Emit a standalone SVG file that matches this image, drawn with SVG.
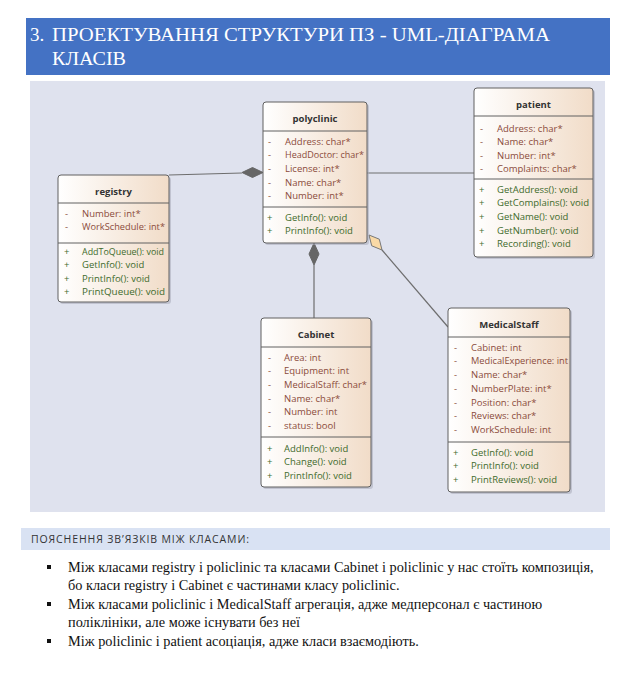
<svg xmlns="http://www.w3.org/2000/svg" width="637" height="687" viewBox="0 0 637 687">
<defs>
<linearGradient id="gr" x1="0" y1="0" x2="1" y2="0">
<stop offset="0" stop-color="#ffffff"/>
<stop offset="1" stop-color="#f1dcc8"/>
</linearGradient>
</defs>
<style>
.box{fill:url(#gr);stroke:#606060;stroke-width:1}
.sh{fill:#a8aab8;opacity:0.55}
.sep{stroke:#606060;stroke-width:1}
.ttl{font-family:"Open Sans","Liberation Sans",sans-serif;font-size:9.5px;font-weight:bold;fill:#333;text-anchor:middle}
.a{font-family:"Open Sans","Liberation Sans",sans-serif;font-size:9.5px;fill:#8b4b3b}
.m{font-family:"Open Sans","Liberation Sans",sans-serif;font-size:9.5px;fill:#3e6b2c}
.ln{stroke:#6e6e6e;stroke-width:1.2;fill:none}
.hd{font-family:"Liberation Serif","Times New Roman",serif;font-size:19px;fill:#ffffff}
.bt{font-family:"Liberation Serif",serif;font-size:14.3px;fill:#111}
.lbl{font-family:"Open Sans","Liberation Sans",sans-serif;font-size:10.5px;fill:#333}
</style>
<rect x="0" y="0" width="637" height="687" fill="#ffffff"/>
<g id="header">
<rect x="26" y="18" width="584" height="57" fill="#4472c4"/>
<text class="hd" x="30" y="41">3.</text>
<text class="hd" x="52" y="41" textLength="498" lengthAdjust="spacingAndGlyphs">ПРОЕКТУВАННЯ СТРУКТУРИ ПЗ - UML-ДІАГРАМА</text>
<text class="hd" x="52" y="65" textLength="74" lengthAdjust="spacingAndGlyphs">КЛАСІВ</text>
</g>
<rect id="canvas" x="30" y="81" width="575" height="431" fill="#dfe2ee"/>
<g id="connectors">
<line class="ln" x1="169" y1="175" x2="242" y2="173"/>
<polygon points="263,172.5 252.5,167.5 242,172.5 252.5,177.5" fill="#666" stroke="#666" stroke-width="1"/>
<line class="ln" x1="314" y1="265" x2="314" y2="318"/>
<polygon points="314,243 319,254 314,265 309,254" fill="#666" stroke="#666" stroke-width="1"/>
<line class="ln" x1="367" y1="173" x2="474" y2="173"/>
<line class="ln" x1="382" y1="250" x2="448" y2="327"/>
<polygon points="369,235 379.3,239.2 382,250 371.7,245.8" fill="#f9d9a6" stroke="#777" stroke-width="1"/>
</g>
<g id="registry">
<rect class="sh" x="60" y="177" width="111" height="127" rx="3"/>
<rect class="box" x="58" y="175" width="111" height="127" rx="3"/>
<line class="sep" x1="58" y1="203" x2="169" y2="203"/>
<line class="sep" x1="58" y1="243" x2="169" y2="243"/>
<text class="ttl" x="113.5" y="194.5">registry</text>
<text class="a" x="65" y="216.5">-</text><text class="a" x="82" y="216.5">Number: int*</text>
<text class="a" x="65" y="230.2">-</text><text class="a" x="82" y="230.2" textLength="83" lengthAdjust="spacingAndGlyphs">WorkSchedule: int*</text>
<text class="m" x="64" y="254.5">+</text><text class="m" x="82" y="254.5" textLength="82" lengthAdjust="spacingAndGlyphs">AddToQueue(): void</text>
<text class="m" x="64" y="268">+</text><text class="m" x="82" y="268">GetInfo(): void</text>
<text class="m" x="64" y="281.7">+</text><text class="m" x="82" y="281.7">PrintInfo(): void</text>
<text class="m" x="64" y="295.4">+</text><text class="m" x="82" y="295.4" textLength="83" lengthAdjust="spacingAndGlyphs">PrintQueue(): void</text>
</g>
<g id="polyclinic">
<rect class="sh" x="265" y="104" width="104" height="141" rx="3"/>
<rect class="box" x="263" y="102" width="104" height="141" rx="3"/>
<line class="sep" x1="263" y1="131" x2="367" y2="131"/>
<line class="sep" x1="263" y1="207" x2="367" y2="207"/>
<text class="ttl" x="315" y="122">polyclinic</text>
<text class="a" x="268" y="144.5">-</text><text class="a" x="285" y="144.5">Address: char*</text>
<text class="a" x="268" y="158.2">-</text><text class="a" x="285" y="158.2" textLength="79" lengthAdjust="spacingAndGlyphs">HeadDoctor: char*</text>
<text class="a" x="268" y="171.9">-</text><text class="a" x="285" y="171.9">License: int*</text>
<text class="a" x="268" y="185.6">-</text><text class="a" x="285" y="185.6">Name: char*</text>
<text class="a" x="268" y="199.3">-</text><text class="a" x="285" y="199.3">Number: int*</text>
<text class="m" x="267" y="220.5">+</text><text class="m" x="285" y="220.5">GetInfo(): void</text>
<text class="m" x="267" y="234.2">+</text><text class="m" x="285" y="234.2">PrintInfo(): void</text>
</g>
<g id="patient">
<rect class="sh" x="476" y="90" width="119" height="169" rx="3"/>
<rect class="box" x="474" y="88" width="119" height="169" rx="3"/>
<line class="sep" x1="474" y1="116" x2="593" y2="116"/>
<line class="sep" x1="474" y1="179" x2="593" y2="179"/>
<text class="ttl" x="533.5" y="108">patient</text>
<text class="a" x="480" y="131.5">-</text><text class="a" x="497" y="131.5">Address: char*</text>
<text class="a" x="480" y="145">-</text><text class="a" x="497" y="145">Name: char*</text>
<text class="a" x="480" y="158.5">-</text><text class="a" x="497" y="158.5">Number: int*</text>
<text class="a" x="480" y="172">-</text><text class="a" x="497" y="172">Complaints: char*</text>
<text class="m" x="479" y="192.5">+</text><text class="m" x="497" y="192.5">GetAddress(): void</text>
<text class="m" x="479" y="206.2">+</text><text class="m" x="497" y="206.2" textLength="92" lengthAdjust="spacingAndGlyphs">GetComplains(): void</text>
<text class="m" x="479" y="219.9">+</text><text class="m" x="497" y="219.9">GetName(): void</text>
<text class="m" x="479" y="233.6">+</text><text class="m" x="497" y="233.6">GetNumber(): void</text>
<text class="m" x="479" y="247.3">+</text><text class="m" x="497" y="247.3">Recording(): void</text>
</g>
<g id="Cabinet">
<rect class="sh" x="263" y="320" width="110" height="169" rx="3"/>
<rect class="box" x="261" y="318" width="110" height="169" rx="3"/>
<line class="sep" x1="261" y1="347" x2="371" y2="347"/>
<line class="sep" x1="261" y1="437" x2="371" y2="437"/>
<text class="ttl" x="316" y="338">Cabinet</text>
<text class="a" x="268" y="360.5">-</text><text class="a" x="284" y="360.5">Area: int</text>
<text class="a" x="268" y="374.2">-</text><text class="a" x="284" y="374.2">Equipment: int</text>
<text class="a" x="268" y="387.9">-</text><text class="a" x="284" y="387.9" textLength="83" lengthAdjust="spacingAndGlyphs">MedicalStaff: char*</text>
<text class="a" x="268" y="401.6">-</text><text class="a" x="284" y="401.6">Name: char*</text>
<text class="a" x="268" y="415.3">-</text><text class="a" x="284" y="415.3">Number: int</text>
<text class="a" x="268" y="429">-</text><text class="a" x="284" y="429">status: bool</text>
<text class="m" x="267" y="451.5">+</text><text class="m" x="284" y="451.5">AddInfo(): void</text>
<text class="m" x="267" y="465.2">+</text><text class="m" x="284" y="465.2">Change(): void</text>
<text class="m" x="267" y="478.9">+</text><text class="m" x="284" y="478.9">PrintInfo(): void</text>
</g>
<g id="MedicalStaff">
<rect class="sh" x="450" y="310" width="122" height="184" rx="3"/>
<rect class="box" x="448" y="308" width="122" height="184" rx="3"/>
<line class="sep" x1="448" y1="337" x2="570" y2="337"/>
<line class="sep" x1="448" y1="442" x2="570" y2="442"/>
<text class="ttl" x="509" y="328">MedicalStaff</text>
<text class="a" x="454" y="350.5">-</text><text class="a" x="471" y="350.5">Cabinet: int</text>
<text class="a" x="454" y="364.3">-</text><text class="a" x="471" y="364.3" textLength="97" lengthAdjust="spacingAndGlyphs">MedicalExperience: int</text>
<text class="a" x="454" y="378">-</text><text class="a" x="471" y="378">Name: char*</text>
<text class="a" x="454" y="391.8">-</text><text class="a" x="471" y="391.8">NumberPlate: int*</text>
<text class="a" x="454" y="405.5">-</text><text class="a" x="471" y="405.5">Position: char*</text>
<text class="a" x="454" y="419.3">-</text><text class="a" x="471" y="419.3">Reviews: char*</text>
<text class="a" x="454" y="433">-</text><text class="a" x="471" y="433">WorkSchedule: int</text>
<text class="m" x="453" y="455.5">+</text><text class="m" x="471" y="455.5">GetInfo(): void</text>
<text class="m" x="453" y="469.2">+</text><text class="m" x="471" y="469.2">PrintInfo(): void</text>
<text class="m" x="453" y="482.9">+</text><text class="m" x="471" y="482.9">PrintReviews(): void</text>
</g>
<g id="notes">
<rect x="21" y="528" width="589" height="22" fill="#d9e2f3"/>
<text class="lbl" x="31" y="543" textLength="218" lengthAdjust="spacing">ПОЯСНЕННЯ ЗВ’ЯЗКІВ МІЖ КЛАСАМИ:</text>
<rect x="47" y="565" width="4" height="4" fill="#111"/>
<text class="bt" x="68" y="572">Між класами registry і policlinic та класами Cabinet і policlinic  у нас стоїть композиція,</text>
<text class="bt" x="68" y="590">бо класи registry і Cabinet є частинами класу policlinic.</text>
<rect x="47" y="602" width="4" height="4" fill="#111"/>
<text class="bt" x="68" y="609">Між класами policlinic і MedicalStaff агрегація, адже медперсонал є частиною</text>
<text class="bt" x="68" y="627">поліклініки, але може існувати без неї</text>
<rect x="47" y="639" width="4" height="4" fill="#111"/>
<text class="bt" x="68" y="646">Між policlinic і patient асоціація, адже класи взаємодіють.</text>
</g>
</svg>
